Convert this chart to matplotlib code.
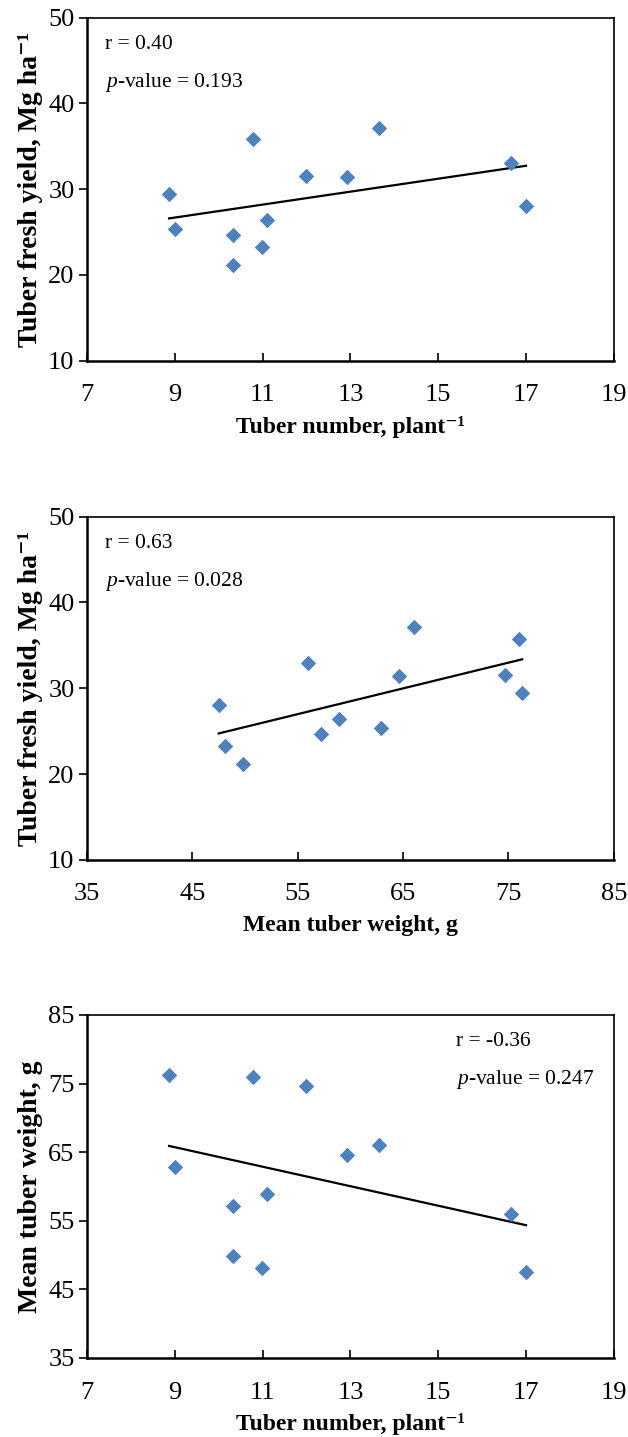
import matplotlib
matplotlib.use("Agg")
import matplotlib.pyplot as plt
import numpy as np

plt.rcParams["font.family"] = ["Liberation Serif", "DejaVu Serif"]
plt.rcParams["mathtext.fontset"] = "custom"
plt.rcParams["mathtext.rm"] = "Liberation Serif"
plt.rcParams["mathtext.it"] = "Liberation Serif:italic"
plt.rcParams["mathtext.bf"] = "Liberation Serif:bold"

# one entry per plot: tuber number, mean tuber weight, fresh yield
tuber_number = [8.87, 9.0, 10.33, 10.33, 10.79, 10.99, 11.10, 11.99, 12.93, 13.66, 16.66, 17.0]
tuber_weight = [76.3, 62.9, 57.2, 49.8, 76.0, 48.1, 58.9, 74.7, 64.6, 66.0, 56.0, 47.5]
fresh_yield = [29.4, 25.4, 24.7, 21.2, 35.8, 23.3, 26.4, 31.5, 31.4, 37.1, 33.0, 28.0]

r_values = ["0.40", "0.63", "-0.36"]
p_values = ["0.193", "0.028", "0.247"]

blue = "#4F81BD"

fig = plt.figure(figsize=(6.28, 14.37), dpi=100)

panels = [
    (tuber_number, fresh_yield, (7, 19, 2), (10, 50, 10),
     "Tuber number, plant⁻¹", "Tuber fresh yield, Mg ha⁻¹", 0.749, 0.035),
    (tuber_weight, fresh_yield, (35, 85, 10), (10, 50, 10),
     "Mean tuber weight, g", "Tuber fresh yield, Mg ha⁻¹", 0.4017, 0.035),
    (tuber_number, tuber_weight, (7, 19, 2), (35, 85, 10),
     "Tuber number, plant⁻¹", "Mean tuber weight, g", 0.055, 0.700),
]

for i, (xs, ys, xr, yr, xl, yl, bottom, tx) in enumerate(panels):
    ax = fig.add_axes([0.1385, bottom, 0.839, 0.2387])
    xs = np.array(xs)
    ys = np.array(ys)
    ax.scatter(xs, ys, marker="D", s=62, color=blue, linewidths=0, zorder=3)
    k, b = np.polyfit(xs, ys, 1)
    xx = np.array([xs.min(), xs.max()])
    ax.plot(xx, k * xx + b, color="black", lw=1.6, zorder=2)

    ax.set_xlim(xr[0], xr[1])
    ax.set_ylim(yr[0], yr[1])
    ax.set_xticks(np.arange(xr[0], xr[1] + 0.1, xr[2]))
    ax.set_yticks(np.arange(yr[0], yr[1] + 0.1, yr[2]))
    ax.tick_params(axis="x", direction="in", length=6, width=1.2, labelsize=19, pad=17)
    ax.tick_params(axis="y", direction="out", length=6, width=1.2, labelsize=19, pad=3)
    for s in ["left", "bottom"]:
        ax.spines[s].set_linewidth(1.8)
    for s in ["top", "right"]:
        ax.spines[s].set_linewidth(1.2)

    ax.set_xlabel(xl, fontsize=17, fontweight="bold", labelpad=7)
    ax.set_ylabel(yl, fontsize=20, fontweight="bold", labelpad=4)

    ax.text(tx, 0.922, "r = " + r_values[i], transform=ax.transAxes,
            fontsize=15.5, ha="left", va="center")
    ax.text(tx, 0.812, r"$\it{p}$-value = " + p_values[i], transform=ax.transAxes,
            fontsize=15.5, ha="left", va="center")

fig.savefig("out.png", dpi=100)
